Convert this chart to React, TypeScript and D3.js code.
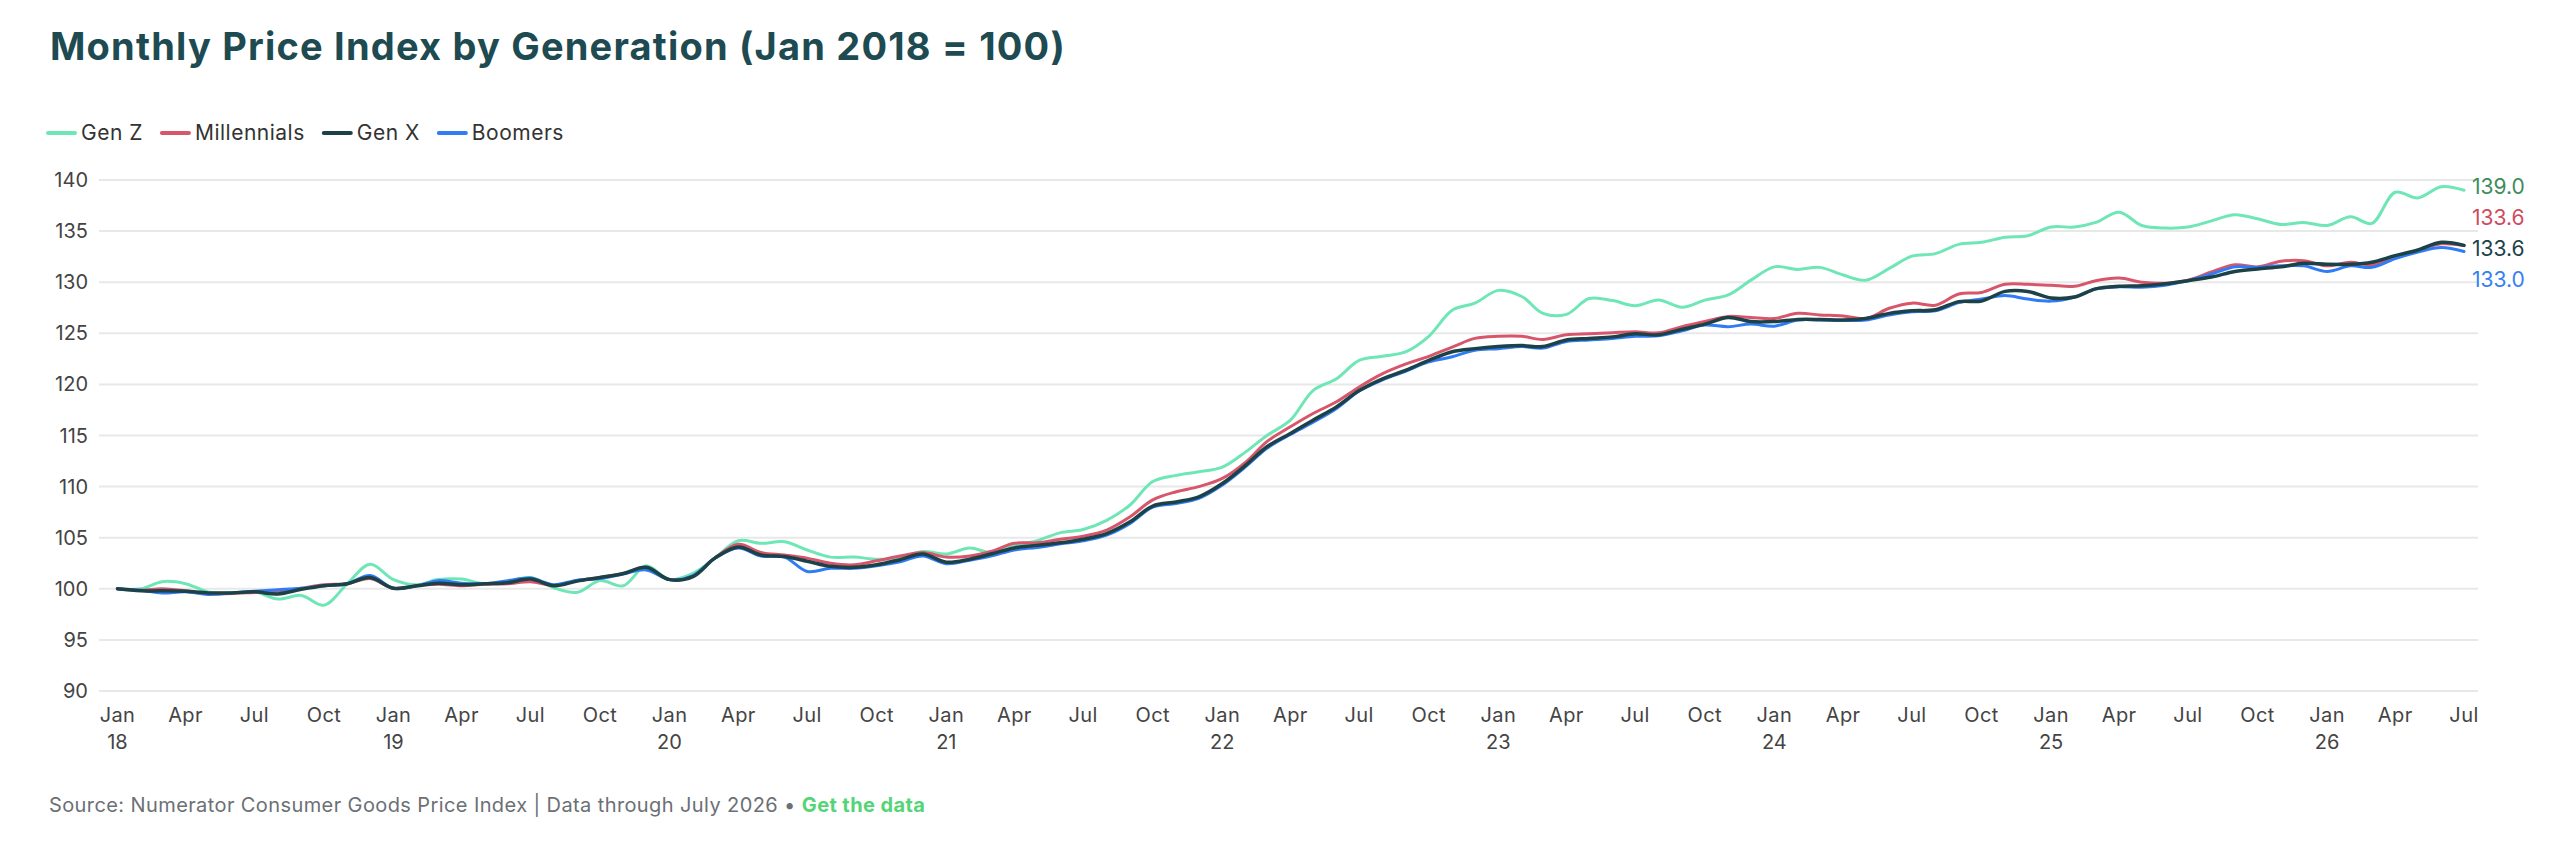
import { useEffect, useRef } from "react";
import * as d3 from "d3";

// Monthly index, Jan 2018 .. Jul 2026 (Jan 2018 = 100)
const START = new Date(2018, 0, 1);
const END = new Date(2026, 6, 1);

const genZ = [
  100.0, 100.0, 100.7, 100.5, 99.7, 99.6, 99.7, 99.0, 99.35, 98.4, 100.5, 102.4,
  100.9, 100.4, 100.9, 100.95, 100.5, 100.7, 101.1, 100.1, 99.65, 100.8, 100.3, 102.25,
  100.9, 101.5, 103.0, 104.7, 104.45, 104.6, 103.8, 103.1, 103.1, 102.9, 103.0, 103.65,
  103.4, 104.0, 103.55, 104.2, 104.7, 105.5, 105.8, 106.7, 108.2, 110.5, 111.1, 111.45,
  111.9, 113.4, 115.0, 116.5, 119.4, 120.55, 122.35, 122.75, 123.2, 124.7, 127.25, 127.95,
  129.2, 128.6, 126.95, 126.85, 128.4, 128.2, 127.7, 128.25, 127.55, 128.25, 128.75, 130.2,
  131.5, 131.25, 131.45, 130.7, 130.2, 131.35, 132.55, 132.8, 133.7, 133.9, 134.4, 134.55,
  135.4, 135.4, 135.85, 136.85, 135.55, 135.3, 135.4, 136.0, 136.6, 136.2, 135.65, 135.85,
  135.55, 136.4, 135.75, 138.8, 138.25, 139.35, 139.0,
];

const millennials = [
  100.0, 99.85, 100.0, 99.8, 99.5, 99.55, 99.65, 99.75, 100.05, 100.4, 100.5, 101.0,
  100.05, 100.3, 100.45, 100.3, 100.45, 100.5, 100.7, 100.35, 100.8, 101.1, 101.5, 102.0,
  100.9, 101.25, 103.0, 104.35, 103.55, 103.3, 103.0, 102.5, 102.35, 102.75, 103.2, 103.55,
  103.1, 103.2, 103.65, 104.45, 104.5, 104.85, 105.15, 105.75, 107.05, 108.7, 109.5, 110.0,
  110.8, 112.4, 114.4, 115.85, 117.15, 118.3, 119.75, 121.05, 122.0, 122.75, 123.65, 124.5,
  124.7, 124.7, 124.4, 124.85, 124.95, 125.05, 125.15, 125.05, 125.65, 126.15, 126.65, 126.55,
  126.45, 126.95, 126.8, 126.7, 126.45, 127.45, 127.95, 127.75, 128.85, 129.0, 129.8, 129.8,
  129.7, 129.6, 130.15, 130.4, 130.0, 129.9, 130.2, 131.0, 131.7, 131.5, 132.05, 132.1,
  131.6, 131.95, 131.7, 132.45, 133.1, 133.75, 133.6,
];

const genX = [
  100.0, 99.8, 99.8, 99.75, 99.6, 99.6, 99.7, 99.5, 99.95, 100.3, 100.5, 101.1,
  100.05, 100.3, 100.55, 100.4, 100.5, 100.6, 100.95, 100.3, 100.75, 101.1, 101.5, 102.1,
  100.9, 101.2, 103.0, 104.1, 103.3, 103.15, 102.7, 102.2, 102.1, 102.35, 102.85, 103.4,
  102.6, 102.9, 103.4, 104.0, 104.25, 104.5, 104.85, 105.4, 106.55, 108.1, 108.5, 109.0,
  110.3, 112.1, 113.9, 115.2, 116.5, 117.8, 119.4, 120.55, 121.4, 122.35, 123.2, 123.5,
  123.7, 123.8, 123.7, 124.35, 124.5, 124.65, 124.95, 124.85, 125.4, 125.9, 126.55, 126.15,
  126.15, 126.35, 126.35, 126.3, 126.45, 126.95, 127.2, 127.3, 128.1, 128.15, 129.1, 129.1,
  128.45, 128.55, 129.35, 129.6, 129.65, 129.85, 130.15, 130.5, 131.05, 131.3, 131.5, 131.85,
  131.75, 131.75, 131.95, 132.6, 133.15, 133.9, 133.6,
];

const boomers = [
  100.0, 99.85, 99.6, 99.7, 99.45, 99.6, 99.75, 99.9, 100.05, 100.3, 100.5, 101.3,
  100.05, 100.3, 100.8, 100.55, 100.5, 100.8, 101.05, 100.4, 100.85, 101.0, 101.45, 101.85,
  100.9, 101.3, 103.0, 104.0, 103.2, 103.1, 101.7, 102.0, 102.0, 102.25, 102.65, 103.2,
  102.45, 102.8, 103.2, 103.8, 104.05, 104.4, 104.7, 105.25, 106.4, 108.0, 108.35, 108.85,
  110.15, 111.95, 113.75, 115.1, 116.3, 117.65, 119.35, 120.45, 121.3, 122.2, 122.7, 123.35,
  123.5, 123.7, 123.55, 124.2, 124.35, 124.5, 124.7, 124.75, 125.25, 125.8, 125.65, 125.9,
  125.7, 126.3, 126.3, 126.25, 126.3, 126.8, 127.1, 127.2, 128.0, 128.35, 128.7, 128.35,
  128.15, 128.55, 129.35, 129.55, 129.5, 129.7, 130.15, 130.8, 131.5, 131.45, 131.6, 131.6,
  131.05, 131.6, 131.45, 132.3, 132.95, 133.4, 133.0,
];

const seriesNames = ["Gen Z", "Millennials", "Gen X", "Boomers"];
const seriesValues = [genZ, millennials, genX, boomers];
const lineColors = ["#6fe6b6", "#d8566b", "#1c4247", "#2f7cf5"];
const labelColors = ["#3d8c5c", "#cf4a5f", "#1c4247", "#3580f2"];
const drawOrder = [0, 1, 3, 2]; // Gen X sits on top

const yTicks = [90, 95, 100, 105, 110, 115, 120, 125, 130, 135, 140];

const TITLE = "Monthly Price Index by Generation (Jan 2018 = 100)";
const SOURCE = "Source: Numerator Consumer Goods Price Index | Data through July 2026 \u2022 ";
const SOURCE_LINK = "Get the data";

const FONT = "Inter, Lato, sans-serif";

const App = () => {
  const svgRef = useRef<SVGSVGElement | null>(null);

  useEffect(() => {
    const width = 2560;
    const height = 851;
    const svg = d3.select(svgRef.current).attr("width", width).attr("height", height);
    svg.selectAll("*").remove();

    const months = d3.timeMonth.range(START, d3.timeMonth.offset(END, 1));

    const x = d3.scaleTime().domain([START, END]).range([117.5, 2464]);
    const y = d3.scaleLinear().domain([90, 140]).range([691, 180]);

    // Title
    svg
      .append("text")
      .attr("x", 50)
      .attr("y", 60)
      .attr("font-family", FONT)
      .attr("font-weight", 700)
      .attr("font-size", 38)
      .attr("letter-spacing", 1.2)
      .attr("fill", "#1e4a51")
      .text(TITLE);

    // Legend
    const legend = svg.append("g").attr("transform", "translate(48,133)");
    let lx = 0;
    seriesNames.forEach((name, i) => {
      legend
        .append("line")
        .attr("x1", lx)
        .attr("x2", lx + 27)
        .attr("stroke", lineColors[i])
        .attr("stroke-width", 4)
        .attr("stroke-linecap", "round");
      const t = legend
        .append("text")
        .attr("x", lx + 33)
        .attr("dy", "0.35em")
        .attr("font-family", FONT)
        .attr("font-size", 21)
        .attr("letter-spacing", 0.5)
        .attr("fill", "#333")
        .text(name);
      const w = (t.node() as SVGTextElement).getComputedTextLength();
      lx += 33 + w + 19;
    });

    // Grid + y labels
    const grid = svg.append("g");
    grid
      .selectAll("line")
      .data(yTicks)
      .join("line")
      .attr("x1", 99)
      .attr("x2", 2478)
      .attr("y1", (d) => y(d))
      .attr("y2", (d) => y(d))
      .attr("stroke", "#e8e8e8")
      .attr("stroke-width", 2);

    svg
      .append("g")
      .selectAll("text")
      .data(yTicks)
      .join("text")
      .attr("x", 88)
      .attr("y", (d) => y(d))
      .attr("dy", "0.35em")
      .attr("text-anchor", "end")
      .attr("font-family", FONT)
      .attr("font-size", 20)
      .attr("fill", "#444")
      .text((d) => d);

    // X axis labels
    const xTicks = x.ticks(d3.timeMonth.every(3)!);
    const fmtMonth = d3.timeFormat("%b");
    const fmtYear = d3.timeFormat("%y");
    const xg = svg.append("g");
    xg.selectAll("text.month")
      .data(xTicks)
      .join("text")
      .attr("class", "month")
      .attr("x", (d) => x(d))
      .attr("y", 715)
      .attr("dy", "0.35em")
      .attr("text-anchor", "middle")
      .attr("font-family", FONT)
      .attr("font-size", 20)
      .attr("letter-spacing", 0.4)
      .attr("fill", "#444")
      .text((d) => fmtMonth(d));
    xg.selectAll("text.year")
      .data(xTicks.filter((d) => d.getMonth() === 0))
      .join("text")
      .attr("class", "year")
      .attr("x", (d) => x(d))
      .attr("y", 742)
      .attr("dy", "0.35em")
      .attr("text-anchor", "middle")
      .attr("font-family", FONT)
      .attr("font-size", 20)
      .attr("fill", "#444")
      .text((d) => fmtYear(d));

    // Lines
    const line = d3
      .line<number>()
      .x((_, i) => x(months[i]))
      .y((d) => y(d))
      .curve(d3.curveCatmullRom.alpha(0.5));

    const linesLayer = svg.append("g");
    drawOrder.forEach((i) => {
      linesLayer
        .append("path")
        .attr("d", line(seriesValues[i]))
        .attr("fill", "none")
        .attr("stroke", lineColors[i])
        .attr("stroke-width", i === 2 ? 3.5 : 3)
        .attr("stroke-linejoin", "round")
        .attr("stroke-linecap", "round");
    });

    // End labels, pushed apart so they don't collide
    const gap = 31;
    const items = seriesValues
      .map((vals, i) => ({ i, want: y(vals[vals.length - 1]), pos: 0 }))
      .sort((a, b) => a.want - b.want);
    type Cluster = { members: typeof items; top: number };
    const clusters: Cluster[] = [];
    items.forEach((it) => {
      clusters.push({ members: [it], top: it.want });
      while (clusters.length > 1) {
        const cur = clusters[clusters.length - 1];
        const prev = clusters[clusters.length - 2];
        if (prev.top + prev.members.length * gap <= cur.top) break;
        const members = prev.members.concat(cur.members);
        const mean = d3.mean(members, (m) => m.want) ?? 0;
        clusters.splice(clusters.length - 2, 2, {
          members,
          top: mean - ((members.length - 1) * gap) / 2,
        });
      }
    });
    clusters.forEach((c) => c.members.forEach((m, k) => (m.pos = c.top + k * gap)));

    svg
      .append("g")
      .selectAll("text")
      .data(items)
      .join("text")
      .attr("x", x(END) + 8)
      .attr("y", (d) => d.pos)
      .attr("dy", "0.35em")
      .attr("font-family", FONT)
      .attr("font-size", 21)
      .attr("fill", (d) => labelColors[d.i])
      .text((d) => d3.format(".1f")(seriesValues[d.i][seriesValues[d.i].length - 1]));

    // Source
    const src = svg
      .append("text")
      .attr("x", 49)
      .attr("y", 805)
      .attr("dy", "0.35em")
      .attr("font-family", FONT)
      .attr("font-size", 20)
      .attr("letter-spacing", 0.4)
      .attr("fill", "#6b7075");
    src.append("tspan").text(SOURCE);
    src.append("tspan").attr("font-weight", 700).attr("fill", "#55d477").text(SOURCE_LINK);
  }, []);

  return (
    <div style={{ position: "absolute", left: 0, top: 0, background: "#fff" }}>
      <svg ref={svgRef} style={{ display: "block" }} />
    </div>
  );
};

export default App;
